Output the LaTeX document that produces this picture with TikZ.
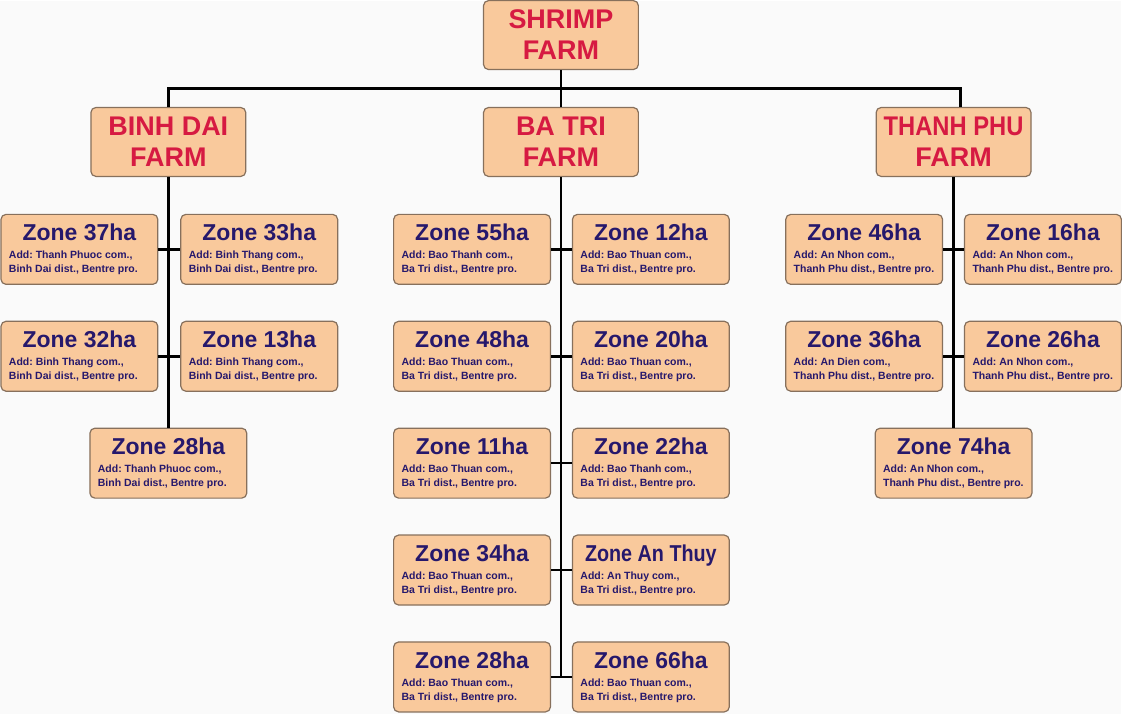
\documentclass[tikz,border=0pt]{standalone}
\usepackage{fontspec}
\setmainfont{Liberation Sans}
\usetikzlibrary{positioning, calc}
\definecolor{peach}{RGB}{249,201,156}
\definecolor{boxedge}{RGB}{135,112,92}
\definecolor{farmred}{RGB}{214,26,66}
\definecolor{zoneblue}{RGB}{38,24,108}
\definecolor{paper}{RGB}{250,250,250}
\newcommand{\zonetxt}[3]{\parbox{141pt}{\frenchspacing\centering\fontsize{23}{23}\selectfont #1\par\vspace{4pt}\raggedright\fontsize{10.5}{14}\selectfont #2\\#3}}

\begin{document}
\begin{tikzpicture}[x=1pt, y=-1pt,
  card/.style={draw=boxedge, line width=1.2pt, fill=peach, rounded corners=5pt},
  farm/.style={card, minimum width=155pt, minimum height=69pt, align=center, text=farmred, font=\bfseries\fontsize{27}{31}\selectfont, inner sep=0pt},
  zone/.style={card, minimum width=157pt, minimum height=70pt, inner xsep=8pt, inner ysep=0pt, text=zoneblue, font=\bfseries},
  wire/.style={line width=2.5pt, black}]
  \fill[paper] (0,0) rectangle (1122,714);

  % top and farms
  \node[farm] (root) at (561.5,34.5) {SHRIMP\\FARM};
  \node[farm] (bd) at (168.5,141.5) {BINH DAI\\FARM};
  \node[farm] (bt) at (561.5,141.5) {BA TRI\\FARM};
  \node[farm] (tp) at (954.5,141.5) {\scalebox{0.88}[1]{THANH PHU}\\FARM};
  \coordinate (bus) at (561.5,88);

  % Binh Dai zones
  \node[zone] (bd37) at (79.5,249) {\zonetxt{Zone 37ha}{Add: Thanh Phuoc com.,}{Binh Dai dist., Bentre pro.}};
  \node[zone] (bd33) at (259.5,249) {\zonetxt{Zone 33ha}{Add: Binh Thang com.,}{Binh Dai dist., Bentre pro.}};
  \node[zone] (bd32) at (79.5,356) {\zonetxt{Zone 32ha}{Add: Binh Thang com.,}{Binh Dai dist., Bentre pro.}};
  \node[zone] (bd13) at (259.5,356) {\zonetxt{Zone 13ha}{Add: Binh Thang com.,}{Binh Dai dist., Bentre pro.}};
  \node[zone] (bd28) at (168.5,463) {\zonetxt{Zone 28ha}{Add: Thanh Phuoc com.,}{Binh Dai dist., Bentre pro.}};

  % Ba Tri zones
  \node[zone] (bt55) at (472.5,249) {\zonetxt{Zone 55ha}{Add: Bao Thanh com.,}{Ba Tri dist., Bentre pro.}};
  \node[zone] (bt12) at (651.5,249) {\zonetxt{Zone 12ha}{Add: Bao Thuan com.,}{Ba Tri dist., Bentre pro.}};
  \node[zone] (bt48) at (472.5,356) {\zonetxt{Zone 48ha}{Add: Bao Thuan com.,}{Ba Tri dist., Bentre pro.}};
  \node[zone] (bt20) at (651.5,356) {\zonetxt{Zone 20ha}{Add: Bao Thuan com.,}{Ba Tri dist., Bentre pro.}};
  \node[zone] (bt11) at (472.5,463) {\zonetxt{Zone 11ha}{Add: Bao Thuan com.,}{Ba Tri dist., Bentre pro.}};
  \node[zone] (bt22) at (651.5,463) {\zonetxt{Zone 22ha}{Add: Bao Thanh com.,}{Ba Tri dist., Bentre pro.}};
  \node[zone] (bt34) at (472.5,570) {\zonetxt{Zone 34ha}{Add: Bao Thuan com.,}{Ba Tri dist., Bentre pro.}};
  \node[zone] (btan) at (651.5,570) {\zonetxt{\scalebox{0.86}[1]{Zone An Thuy}}{Add: An Thuy com.,}{Ba Tri dist., Bentre pro.}};
  \node[zone] (bt28) at (472.5,677) {\zonetxt{Zone 28ha}{Add: Bao Thuan com.,}{Ba Tri dist., Bentre pro.}};
  \node[zone] (bt66) at (651.5,677) {\zonetxt{Zone 66ha}{Add: Bao Thuan com.,}{Ba Tri dist., Bentre pro.}};

  % Thanh Phu zones
  \node[zone] (tp46) at (865,249) {\zonetxt{Zone 46ha}{Add: An Nhon com.,}{Thanh Phu dist., Bentre pro.}};
  \node[zone] (tp16) at (1044,249) {\zonetxt{Zone 16ha}{Add: An Nhon com.,}{Thanh Phu dist., Bentre pro.}};
  \node[zone] (tp36) at (865,356) {\zonetxt{Zone 36ha}{Add: An Dien com.,}{Thanh Phu dist., Bentre pro.}};
  \node[zone] (tp26) at (1044,356) {\zonetxt{Zone 26ha}{Add: An Nhon com.,}{Thanh Phu dist., Bentre pro.}};
  \node[zone] (tp74) at (954.5,463) {\zonetxt{Zone 74ha}{Add: An Nhon com.,}{Thanh Phu dist., Bentre pro.}};

  % connectors
  \draw[wire] (root) -- (bt);
  \draw[wire] (bd.north) |- (bus) -| ([xshift=7pt]tp.north);
  \draw[wire] (bd) -- (bd28);
  \draw[wire] (bt.south) -- (bt.south |- bt28.east);
  \draw[wire] (tp) -- (tp74);
  \foreach \a/\b in {bd37/bd33, bd32/bd13, bt55/bt12, bt48/bt20, bt11/bt22, bt34/btan, bt28/bt66, tp46/tp16, tp36/tp26}
    \draw[wire] (\a.east) -- (\b.west);
\end{tikzpicture}
\end{document}
